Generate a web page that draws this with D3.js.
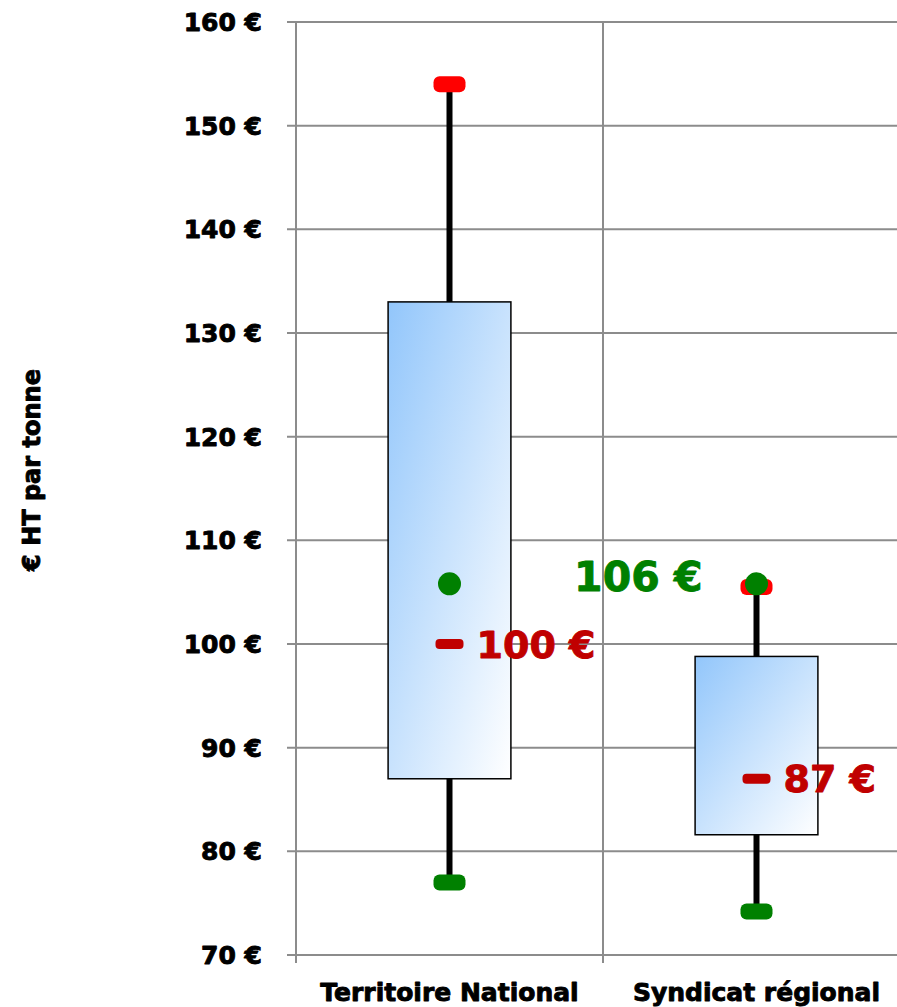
<!DOCTYPE html>
<html>
<head>
<meta charset="utf-8">
<script src="https://d3js.org/d3.v7.min.js"></script>
<style>
  body { margin: 0; background: #fff; }
  svg text { font-family: "DejaVu Sans", Verdana, sans-serif; font-weight: bold; stroke-width: 0.9px; stroke-linejoin: round; }
</style>
</head>
<body>
<svg width="897" height="1007"></svg>
<script>
// data
var categories = ["Territoire National", "Syndicat régional"];
var maxVals = [154, 105.5];
var q3Vals = [133, 98.8];
var medians = [100, 87];
var q1Vals = [87, 81.6];
var minVals = [77, 74.2];
var means = [105.8, 105.8];
var medianLabels = ["100 €", "87 €"];
var meanLabel = "106 €";
var yTicks = [70, 80, 90, 100, 110, 120, 130, 140, 150, 160];

var svg = d3.select("svg");

var y = d3.scaleLinear().domain([70, 160]).range([955, 22]);
var x = d3.scaleBand().domain(categories).range([296, 910]).padding(0);
var bw = x.bandwidth();
var boxW = bw * 0.4;

var defs = svg.append("defs");
var grad = defs.append("linearGradient")
    .attr("id", "boxGrad")
    .attr("x1", 0).attr("y1", 0).attr("x2", 1).attr("y2", 1);
grad.append("stop").attr("offset", "0%").attr("stop-color", "#92c6fb");
grad.append("stop").attr("offset", "100%").attr("stop-color", "#ffffff");

var gridColor = "#8c8c8c";

// horizontal gridlines + y ticks
svg.append("g")
  .selectAll("line")
  .data(yTicks)
  .enter().append("line")
    .attr("x1", 287).attr("x2", 897)
    .attr("y1", function(d) { return y(d); })
    .attr("y2", function(d) { return y(d); })
    .attr("stroke", gridColor)
    .attr("stroke-width", 2);

// vertical axis and category separators
var seps = [x(categories[0]), x(categories[1])];
svg.append("g")
  .selectAll("line")
  .data(seps)
  .enter().append("line")
    .attr("x1", function(d) { return d; })
    .attr("x2", function(d) { return d; })
    .attr("y1", y(160))
    .attr("y2", y(70) + 8)
    .attr("stroke", gridColor)
    .attr("stroke-width", 2);

// y tick labels
svg.append("g")
  .selectAll("text")
  .data(yTicks)
  .enter().append("text")
    .attr("x", 262)
    .attr("y", function(d) { return y(d); })
    .attr("dy", "0.36em")
    .attr("text-anchor", "end")
    .attr("font-size", 25)
    .attr("fill", "#000")
    .attr("stroke", "#000")
    .text(function(d) { return d + " €"; });

// y axis title
svg.append("text")
    .attr("transform", "translate(40," + 470 + ") rotate(-90)")
    .attr("text-anchor", "middle")
    .attr("font-size", 24)
    .attr("fill", "#000")
    .attr("stroke", "#000")
    .text("€ HT par tonne");

// category labels
svg.append("g")
  .selectAll("text")
  .data(categories)
  .enter().append("text")
    .attr("x", function(d) { return x(d) + bw / 2; })
    .attr("y", 1001)
    .attr("text-anchor", "middle")
    .attr("font-size", 25)
    .attr("fill", "#000")
    .attr("stroke", "#000")
    .text(function(d) { return d; });

var idx = d3.range(categories.length);
var cx = function(i) { return x(categories[i]) + bw / 2; };

// whiskers
svg.append("g")
  .selectAll("line")
  .data(idx)
  .enter().append("line")
    .attr("x1", cx).attr("x2", cx)
    .attr("y1", function(i) { return y(maxVals[i]); })
    .attr("y2", function(i) { return y(minVals[i]); })
    .attr("stroke", "#000")
    .attr("stroke-width", 6);

// boxes
svg.append("g")
  .selectAll("rect")
  .data(idx)
  .enter().append("rect")
    .attr("x", function(i) { return cx(i) - boxW / 2; })
    .attr("y", function(i) { return y(q3Vals[i]); })
    .attr("width", boxW)
    .attr("height", function(i) { return y(q1Vals[i]) - y(q3Vals[i]); })
    .attr("fill", "url(#boxGrad)")
    .attr("stroke", "#000")
    .attr("stroke-width", 1.5);

// max caps (red) and min caps (green)
function caps(vals, color) {
  svg.append("g")
    .selectAll("rect")
    .data(idx)
    .enter().append("rect")
      .attr("x", function(i) { return cx(i) - 16; })
      .attr("y", function(i) { return y(vals[i]) - 8; })
      .attr("width", 32)
      .attr("height", 16)
      .attr("rx", 6)
      .attr("fill", color);
}
caps(maxVals, "#ff0000");
caps(minVals, "#008000");

// mean dots
svg.append("g")
  .selectAll("circle")
  .data(idx)
  .enter().append("circle")
    .attr("cx", cx)
    .attr("cy", function(i) { return y(means[i]); })
    .attr("r", 11.5)
    .attr("fill", "#008000");

// median dashes
svg.append("g")
  .selectAll("rect")
  .data(idx)
  .enter().append("rect")
    .attr("x", function(i) { return cx(i) - 14; })
    .attr("y", function(i) { return y(medians[i]) - 5; })
    .attr("width", 28)
    .attr("height", 10)
    .attr("rx", 4)
    .attr("fill", "#c00000");

// median labels
svg.append("g")
  .selectAll("text")
  .data(idx)
  .enter().append("text")
    .attr("x", function(i) { return cx(i) + 27; })
    .attr("y", function(i) { return y(medians[i]); })
    .attr("dy", "0.36em")
    .attr("font-size", 38)
    .attr("fill", "#c00000")
    .attr("stroke", "#c00000")
    .text(function(i) { return medianLabels[i]; });

// mean label
svg.append("text")
    .attr("x", cx(1) - 54)
    .attr("y", y(means[1]) - 8)
    .attr("dy", "0.36em")
    .attr("text-anchor", "end")
    .attr("font-size", 41)
    .attr("fill", "#008000")
    .attr("stroke", "#008000")
    .text(meanLabel);
</script>
</body>
</html>
